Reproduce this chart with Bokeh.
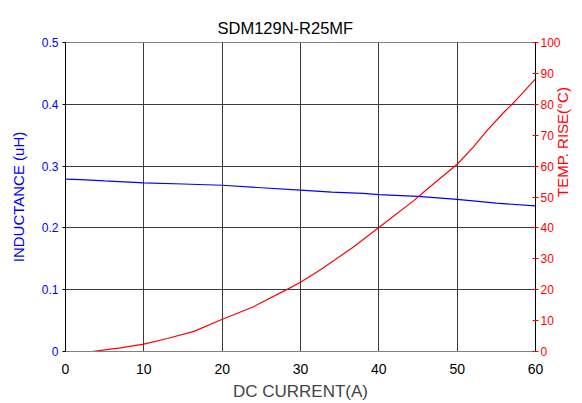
import math
from bokeh.plotting import figure
from bokeh.models import Range1d, LinearAxis, FixedTicker
from bokeh.embed import file_html
from bokeh.resources import INLINE

title_text = "SDM129N-R25MF"
x_label = "DC CURRENT(A)"
left_label = "INDUCTANCE (uH)"
right_label = "TEMP. RISE(°C)"

# Inductance (uH) vs DC current (A)
ind_current = [0, 2, 5, 10, 15, 20, 25, 30, 34, 38, 40, 45, 50, 55, 60]
ind_value = [0.279, 0.278, 0.276, 0.273, 0.271, 0.269, 0.265, 0.261, 0.258, 0.256, 0.254, 0.251, 0.246, 0.240, 0.2355]

# Temperature rise (°C) vs DC current (A)
temp_current = [3.4, 5, 7, 10, 13, 16.4, 19.8, 24, 28.3, 30, 32.6, 36.8, 40, 44.5, 46, 50, 52, 53.8, 56, 57.4, 60]
temp_value = [0, 0.5, 1.2, 2.4, 4.2, 6.5, 10.2, 14.5, 20.1, 22.4, 26.5, 33.9, 40.1, 48.9, 52.2, 60.6, 66.0, 71.5, 77.5, 81.0, 88.2]

x_ticks = [0, 10, 20, 30, 40, 50, 60]
left_ticks = [0, 0.1, 0.2, 0.3, 0.4, 0.5]
right_ticks = [0, 10, 20, 30, 40, 50, 60, 70, 80, 90, 100]

FONT = "Liberation Sans"
BLUE = "#0000ff"
RED = "#ff0000"

p = figure(width=582, height=403, output_backend="svg", toolbar_location=None,
           x_range=Range1d(0, 60), y_range=Range1d(0, 0.5),
           min_border_left=65, min_border_right=47, min_border_top=42, min_border_bottom=51)

p.title.text = title_text
p.title.align = "left"
p.title.offset = 152
p.title.vertical_align = "middle"
p.title.text_font = FONT
p.title.text_font_size = "16.5px"
p.title.text_font_style = "normal"
p.title.text_color = "#000000"

p.extra_y_ranges = {"temp": Range1d(0, 100)}

# x axis
xa = p.xaxis[0]
xa.ticker = FixedTicker(ticks=x_ticks)
xa.axis_label = x_label
xa.axis_label_text_font = FONT
xa.axis_label_text_font_size = "17px"
xa.axis_label_text_font_style = "normal"
xa.axis_label_standoff = 5
xa.major_label_text_font = FONT
xa.major_label_text_font_size = "14px"
xa.major_label_text_color = "#000000"
xa.major_label_standoff = 6
xa.axis_line_color = "#808080"
xa.major_tick_line_color = None
xa.minor_tick_line_color = None

# left axis
ya = p.yaxis[0]
ya.ticker = FixedTicker(ticks=left_ticks)
ya.major_label_overrides = {0: "0"}
ya.axis_label = left_label
ya.axis_label_text_font = FONT
ya.axis_label_text_font_size = "15px"
ya.axis_label_text_font_style = "normal"
ya.axis_label_text_color = BLUE
ya.axis_label_standoff = 12
ya.major_label_text_font = FONT
ya.major_label_text_font_size = "12px"
ya.major_label_text_color = BLUE
ya.major_label_standoff = 4
ya.axis_line_color = "#000000"
ya.major_tick_line_color = "#000000"
ya.major_tick_out = 3
ya.major_tick_in = 0
ya.minor_tick_line_color = None

# right axis
ra = LinearAxis(y_range_name="temp", ticker=FixedTicker(ticks=right_ticks))
ra.axis_label = right_label
ra.axis_label_text_font = FONT
ra.axis_label_text_font_size = "15px"
ra.axis_label_text_font_style = "normal"
ra.axis_label_text_color = RED
ra.axis_label_standoff = -1
ra.major_label_text_font = FONT
ra.major_label_text_font_size = "12px"
ra.major_label_text_color = RED
ra.major_label_standoff = 2
ra.axis_line_color = "#000000"
ra.major_tick_line_color = RED
ra.major_tick_out = 3
ra.major_tick_in = 3
ra.minor_tick_line_color = None
if hasattr(ra, "axis_label_orientation"):
    ra.axis_label_orientation = math.pi / 2
p.add_layout(ra, "right")

# grid
p.xgrid.ticker = FixedTicker(ticks=x_ticks)
p.ygrid.ticker = FixedTicker(ticks=left_ticks)
for g in (p.xgrid[0], p.ygrid[0]):
    g.grid_line_color = "#3a3a3a"
    g.grid_line_width = 1
    g.grid_line_alpha = 1.0

p.outline_line_color = "#808080"
p.background_fill_color = "#ffffff"
p.border_fill_color = "#ffffff"

p.line(ind_current, ind_value, line_color=BLUE, line_width=1.2)
p.line(temp_current, temp_value, line_color=RED, line_width=1.2, y_range_name="temp")

open("out.html", "w").write(file_html(p, INLINE))
